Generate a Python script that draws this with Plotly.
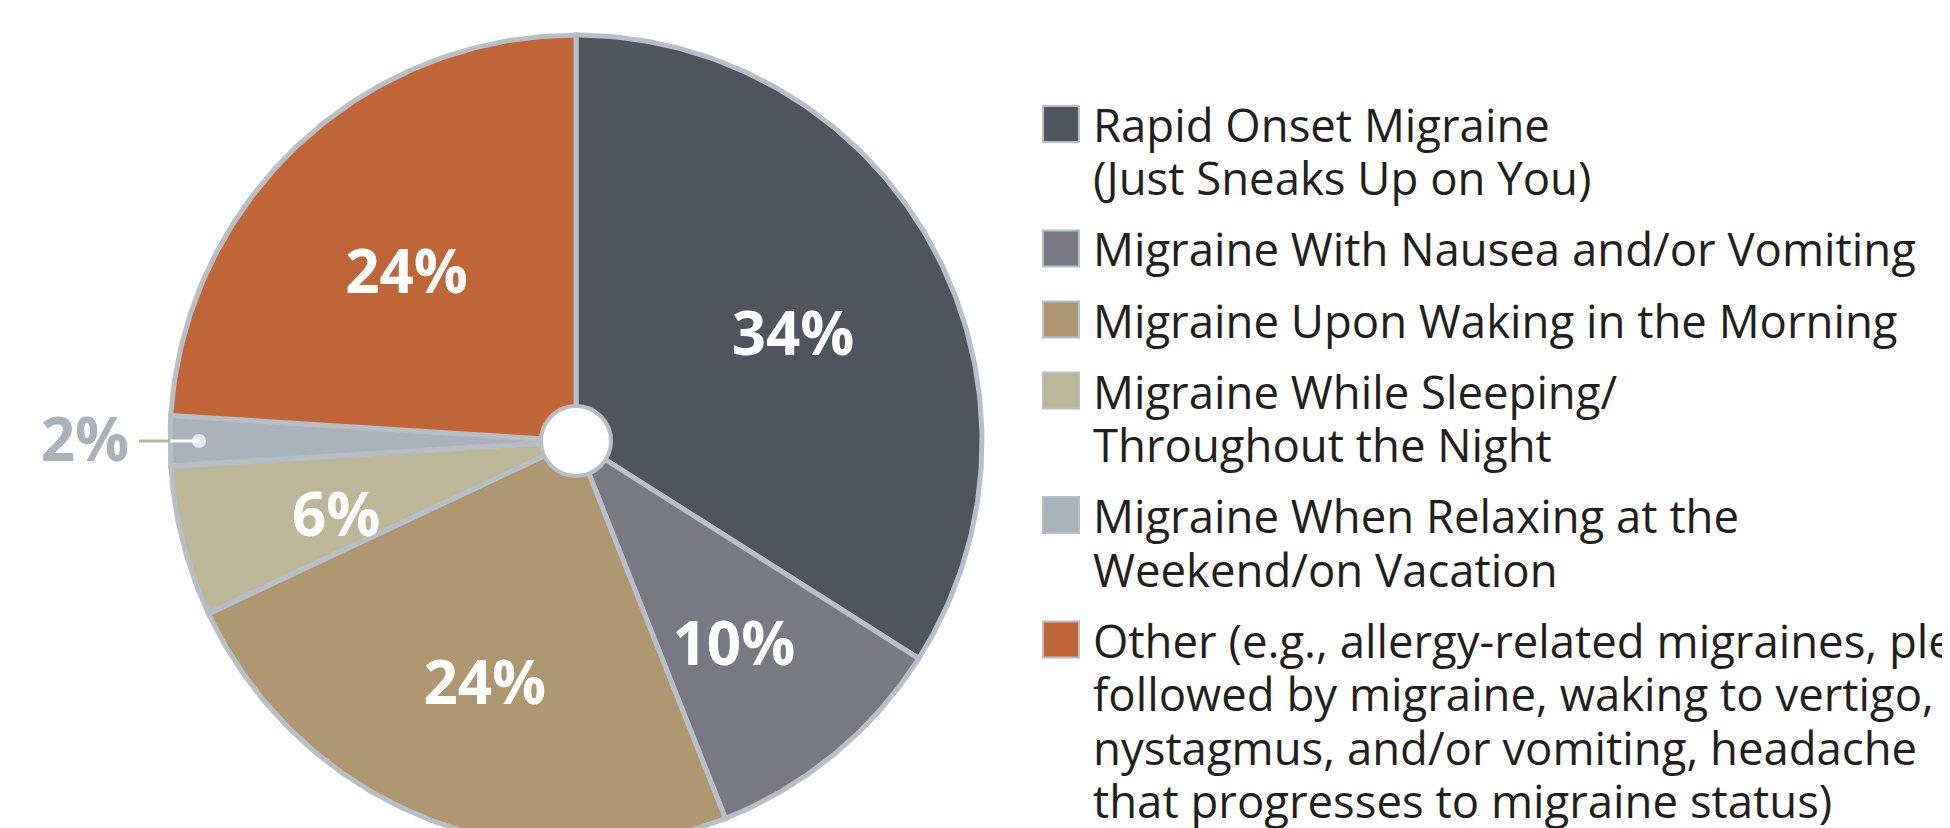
import numpy as np
import plotly.graph_objects as go

# ---------------- data ----------------
categories = [
    "Rapid Onset Migraine (Just Sneaks Up on You)",
    "Migraine With Nausea and/or Vomiting",
    "Migraine Upon Waking in the Morning",
    "Migraine While Sleeping/ Throughout the Night",
    "Migraine When Relaxing at the Weekend/on Vacation",
    "Other (e.g., allergy-related migraines, plegia followed by migraine, waking to vertigo, "
    "nystagmus, and/or vomiting, headache that progresses to migraine status)",
]
legend_lines = [
    ["Rapid Onset Migraine", "(Just Sneaks Up on You)"],
    ["Migraine With Nausea and/or Vomiting"],
    ["Migraine Upon Waking in the Morning"],
    ["Migraine While Sleeping/", "Throughout the Night"],
    ["Migraine When Relaxing at the", "Weekend/on Vacation"],
    ["Other (e.g., allergy-related migraines, plegia",
     "followed by migraine, waking to vertigo,",
     "nystagmus, and/or vomiting, headache",
     "that progresses to migraine status)"],
]
values = [34, 10, 24, 6, 2, 24]
colors = ["#50545d", "#797983", "#ae9670", "#bdb89a", "#aab3bb", "#c06537"]

# ---------------- layout constants (pixels, figure coords) ----------------
# page body has an 8px margin, so the figure is 8px smaller than the window
W, H = 1942, 820
CX, CY, R = 568, 433, 406
BORDER = "#b8bfc6"
LABEL_FONT = "Open Sans"
LEG_FONT = "Open Sans"
LABEL_R = 0.61          # radial position of inside labels (fraction of radius)
LABEL_DROP = 18 / R     # inside labels sit a little below the slice centre line

fig = go.Figure()

total = float(sum(values))
cum = np.concatenate([[0.0], np.cumsum(values)]) / total * 2 * np.pi

for i, v in enumerate(values):
    th = np.linspace(cum[i], cum[i + 1], 200)
    xs = np.concatenate([[0.0], np.sin(th), [0.0]])
    ys = np.concatenate([[0.0], np.cos(th), [0.0]])
    fig.add_trace(go.Scatter(
        x=xs, y=ys, mode="lines", fill="toself", fillcolor=colors[i],
        line=dict(color=BORDER, width=5), hoverinfo="skip", showlegend=False,
        name=categories[i]))

# labels
in_x, in_y, in_t = [], [], []
for i, v in enumerate(values):
    mid = (cum[i] + cum[i + 1]) / 2
    if v >= 3:
        in_x.append(LABEL_R * np.sin(mid))
        in_y.append(LABEL_R * np.cos(mid) - LABEL_DROP)
        in_t.append(f"{v}%")
    else:
        # leader line: outside part (tan), inside part (white) + dot
        r_out, r_edge, r_in, r_lab = 437 / R, 1.0, 377 / R, 491 / R
        fig.add_trace(go.Scatter(
            x=[r_out * np.sin(mid), r_edge * np.sin(mid)],
            y=[r_out * np.cos(mid), r_edge * np.cos(mid)],
            mode="lines", line=dict(color="#bdb89a", width=3),
            hoverinfo="skip", showlegend=False))
        fig.add_trace(go.Scatter(
            x=[r_edge * np.sin(mid), r_in * np.sin(mid)],
            y=[r_edge * np.cos(mid), r_in * np.cos(mid)],
            mode="lines+markers", line=dict(color="white", width=3),
            marker=dict(size=[0, 14], color="white", line=dict(width=0)),
            hoverinfo="skip", showlegend=False))
        fig.add_trace(go.Scatter(
            x=[r_lab * np.sin(mid)], y=[r_lab * np.cos(mid) - 5 / R], mode="text",
            text=[f"{v}%"], textposition="middle center",
            textfont=dict(family=LABEL_FONT, size=60, color=colors[i], weight="bold"),
            hoverinfo="skip", showlegend=False))

fig.add_trace(go.Scatter(
    x=in_x, y=in_y, mode="text", text=in_t, textposition="middle center",
    textfont=dict(family=LABEL_FONT, size=60, color="white", weight="bold"),
    hoverinfo="skip", showlegend=False))

# center hole
hr = 35 / R
fig.add_shape(type="circle", xref="x", yref="y", x0=-hr, y0=-hr, x1=hr, y1=hr,
              fillcolor="white", line=dict(color=BORDER, width=4), layer="above")

# legend (manual)
def px(x):
    return x / W

def py(y):
    return 1 - y / H

y = 116.0
LINE_H, ITEM_GAP = 53.5, 17.5
SQ = 36
for i, lines in enumerate(legend_lines):
    fig.add_shape(type="rect", xref="paper", yref="paper",
                  x0=px(1035), x1=px(1035 + SQ), y0=py(y - SQ / 2), y1=py(y + SQ / 2),
                  fillcolor=colors[i], line=dict(color=BORDER, width=2))
    for ln in lines:
        fig.add_annotation(xref="paper", yref="paper", x=px(1083), y=py(y),
                           xanchor="left", yanchor="middle", text=ln, showarrow=False,
                           font=dict(family=LEG_FONT, size=45.5, color="#231f20"))
        y += LINE_H
    y += ITEM_GAP

fig.update_layout(
    width=W, height=H, margin=dict(l=0, r=0, t=0, b=0),
    paper_bgcolor="white", plot_bgcolor="white", showlegend=False, hovermode=False,
    xaxis=dict(range=[-CX / R, (W - CX) / R], visible=False, fixedrange=True),
    yaxis=dict(range=[(CY - H) / R, CY / R], visible=False, fixedrange=True),
)

fig.write_html("out.html")
